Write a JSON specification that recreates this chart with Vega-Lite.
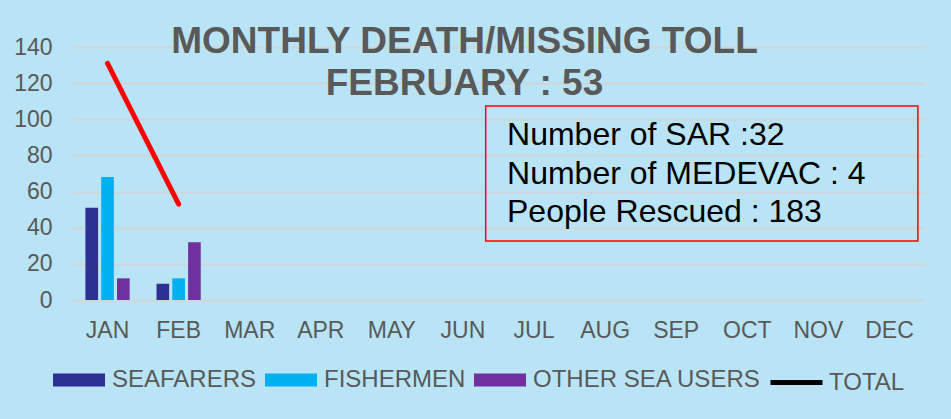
{
  "$schema": "https://vega.github.io/schema/vega-lite/v6.json",
  "width": 853,
  "height": 253,
  "autosize": {"type": "none"},
  "padding": {"left": 72, "top": 47, "right": 26, "bottom": 119},
  "background": "#b8e4f6",
  "config": {
    "view": {"stroke": null},
    "font": "Liberation Sans",
    "axisY": {
      "values": [0, 20, 40, 60, 80, 100, 120, 140],
      "tickCount": 8,
      "labelOverlap": false,
      "domain": false,
      "ticks": false,
      "tickSize": 0,
      "labelFontSize": 23,
      "labelColor": "#595959",
      "labelFont": "Liberation Sans",
      "labelPadding": 20,
      "gridColor": "#d4d4d4",
      "gridWidth": 2
    }
  },
  "title": {
    "text": ["MONTHLY DEATH/MISSING TOLL", "FEBRUARY : 53"],
    "fontSize": 37,
    "fontWeight": "bold",
    "color": "#595959",
    "font": "Liberation Sans",
    "anchor": "middle",
    "frame": "group",
    "lineHeight": 42,
    "baseline": "alphabetic",
    "offset": 0,
    "dx": -34,
    "dy": 96
  },
  "datasets": {
    "counts": [
      {"month": "JAN", "series": "SEAFARERS", "value": 51},
      {"month": "JAN", "series": "FISHERMEN", "value": 68},
      {"month": "JAN", "series": "OTHER SEA USERS", "value": 12},
      {"month": "FEB", "series": "SEAFARERS", "value": 9},
      {"month": "FEB", "series": "FISHERMEN", "value": 12},
      {"month": "FEB", "series": "OTHER SEA USERS", "value": 32}
    ],
    "totals": [
      {"month": "JAN", "series": "TOTAL", "total": 131},
      {"month": "FEB", "series": "TOTAL", "total": 53}
    ],
    "box": [{"x1": 5.82, "x2": 11.9, "top": 107.4, "bottom": 32.7}],
    "notes": [
      {"pos": 6.12, "level": 85.8, "label": "Number of SAR :32"},
      {"pos": 6.12, "level": 64.2, "label": "Number of MEDEVAC : 4"},
      {"pos": 6.12, "level": 43.2, "label": "People Rescued : 183"}
    ]
  },
  "layer": [
    {
      "layer": [
        {
          "data": {"name": "counts"},
          "mark": {"type": "bar"},
          "encoding": {
            "x": {
              "field": "month",
              "type": "nominal",
              "sort": ["JAN","FEB","MAR","APR","MAY","JUN","JUL","AUG","SEP","OCT","NOV","DEC"],
              "scale": {"domain": ["JAN","FEB","MAR","APR","MAY","JUN","JUL","AUG","SEP","OCT","NOV","DEC"], "paddingInner": 0, "paddingOuter": 0},
              "title": null,
              "axis": {
                "domain": false,
                "ticks": false,
                "tickSize": 0,
                "labelAngle": 0,
                "labelFontSize": 23,
                "labelColor": "#595959",
                "labelFont": "Liberation Sans",
                "labelBaseline": "alphabetic",
                "labelPadding": 37,
                "grid": false
              }
            },
            "xOffset": {
              "field": "series",
              "type": "nominal",
              "sort": ["SEAFARERS", "FISHERMEN", "OTHER SEA USERS"],
              "scale": {"domain": ["SEAFARERS", "FISHERMEN", "OTHER SEA USERS"], "paddingInner": 0.2, "paddingOuter": 0.85}
            },
            "y": {
              "field": "value",
              "type": "quantitative",
              "scale": {"domain": [0, 140], "nice": false},
              "title": null,
              "axis": {"values": [0, 20, 40, 60, 80, 100, 120, 140], "labelOverlap": false, "tickCount": 8}
            },
            "fill": {
              "field": "series",
              "type": "nominal",
              "sort": ["SEAFARERS", "FISHERMEN", "OTHER SEA USERS"],
              "scale": {
                "domain": ["SEAFARERS", "FISHERMEN", "OTHER SEA USERS"],
                "range": ["#2e3192", "#00b0f0", "#7030a0"]
              },
              "legend": {
                "orient": "none",
                "legendX": -19,
                "legendY": 307,
                "direction": "horizontal",
                "title": null,
                "padding": 0,
                "labelFontSize": 24,
                "labelLimit": 400,
                "labelColor": "#595959",
                "labelFont": "Liberation Sans",
                "labelOffset": 7,
                "columnPadding": 8,
                "symbolSize": 2704,
                "symbolType": "M-1,-0.25H1V0.25H-1Z",
                "symbolStrokeWidth": 0
              }
            }
          }
        },
        {
          "data": {"name": "totals"},
          "mark": {"type": "line", "strokeWidth": 3, "strokeCap": "round"},
          "encoding": {
            "x": {"field": "month", "type": "nominal", "sort": ["JAN","FEB","MAR","APR","MAY","JUN","JUL","AUG","SEP","OCT","NOV","DEC"], "title": null},
            "y": {"field": "total", "type": "quantitative", "scale": {"domain": [0, 140], "nice": false}, "title": null, "axis": {"values": [0, 20, 40, 60, 80, 100, 120, 140], "labelOverlap": false, "tickCount": 8}},
            "stroke": {
              "field": "series",
              "type": "nominal",
              "scale": {"domain": ["TOTAL"], "range": ["#000000"]},
              "legend": {
                "orient": "none",
                "legendX": 696,
                "legendY": 307,
                "direction": "horizontal",
                "title": null,
                "padding": 0,
                "labelFontSize": 24,
                "labelColor": "#595959",
                "labelFont": "Liberation Sans",
                "labelOffset": 4,
                "symbolType": "stroke",
                "symbolSize": 2704,
                "symbolStrokeWidth": 5
              }
            }
          }
        },
        {
          "data": {"name": "totals"},
          "mark": {"type": "line", "color": "#ff0000", "strokeWidth": 5, "strokeCap": "round"},
          "encoding": {
            "x": {"field": "month", "type": "nominal", "sort": ["JAN","FEB","MAR","APR","MAY","JUN","JUL","AUG","SEP","OCT","NOV","DEC"], "title": null},
            "y": {"field": "total", "type": "quantitative", "scale": {"domain": [0, 140], "nice": false}, "title": null, "axis": {"values": [0, 20, 40, 60, 80, 100, 120, 140], "labelOverlap": false, "tickCount": 8}}
          }
        }
      ]
    },
    {
      "layer": [
        {
          "data": {"name": "box"},
          "mark": {"type": "rect", "fillOpacity": 0, "stroke": "#ff0000", "strokeWidth": 1.5},
          "encoding": {
            "x": {"field": "x1", "type": "quantitative", "scale": {"domain": [0, 12]}, "axis": null},
            "x2": {"field": "x2"},
            "y": {"field": "top", "type": "quantitative", "scale": {"domain": [0, 140], "nice": false}, "title": null, "axis": {"values": [0, 20, 40, 60, 80, 100, 120, 140], "labelOverlap": false, "tickCount": 8}},
            "y2": {"field": "bottom"}
          }
        },
        {
          "data": {"name": "notes"},
          "mark": {"type": "text", "align": "left", "baseline": "alphabetic", "fontSize": 32, "color": "#000000", "font": "Liberation Sans"},
          "encoding": {
            "x": {"field": "pos", "type": "quantitative", "scale": {"domain": [0, 12]}, "axis": null},
            "y": {"field": "level", "type": "quantitative", "scale": {"domain": [0, 140], "nice": false}, "title": null, "axis": {"values": [0, 20, 40, 60, 80, 100, 120, 140], "labelOverlap": false, "tickCount": 8}},
            "text": {"field": "label"}
          }
        }
      ]
    }
  ],
  "resolve": {"scale": {"x": "independent"}}
}
